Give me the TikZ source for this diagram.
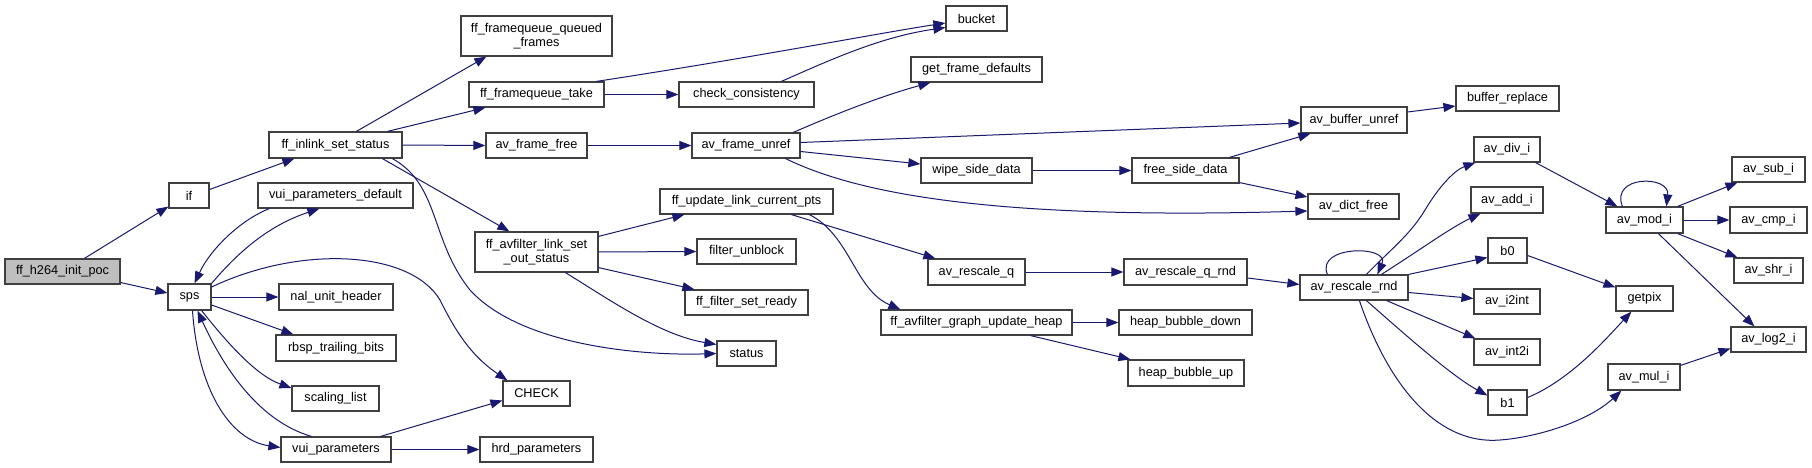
\documentclass[tikz,border=0pt]{standalone}
\usepackage{fontspec}
\setmainfont{Liberation Sans}
\usetikzlibrary{arrows.meta,calc}
\definecolor{edgec}{RGB}{25,25,112}
\definecolor{boxc}{RGB}{64,64,64}
\tikzset{
  box/.style={draw=boxc, line width=1.2pt, fill=white, inner sep=0pt, minimum height=25pt, align=center, font=\fontsize{12.7}{14.5}\selectfont},
  e/.style={draw=edgec, line width=1pt, -{Triangle[length=12pt,width=9pt]}}
}
\begin{document}
\begin{tikzpicture}[x=1pt,y=-1pt]
\fill[white] (0,0) rectangle (1812,468);
\useasboundingbox (0,0) rectangle (1812,468);
% nodes
\node[box, fill={rgb,255:red,191;green,191;blue,191}, minimum width=115pt] (init) at (62.5,271.5) {ff\_h264\_init\_poc};
\node[box, minimum width=40pt] (if) at (189,195.5) {if};
\node[box, minimum width=133pt, minimum height=26pt] (inlink) at (335.5,145) {ff\_inlink\_set\_status};
\node[box, minimum width=155pt] (vuidef) at (335.5,195.5) {vui\_parameters\_default};
\node[box, minimum width=43pt, minimum height=26pt] (sps) at (189.5,297) {sps};
\node[box, minimum width=114pt, minimum height=26pt] (nal) at (336,297) {nal\_unit\_header};
\node[box, minimum width=120pt, minimum height=26pt] (rbsp) at (336,348) {rbsp\_trailing\_bits};
\node[box, minimum width=87pt] (scal) at (335.5,398.5) {scaling\_list};
\node[box, minimum width=110pt] (vui) at (336,449.5) {vui\_parameters};
\node[box, minimum width=151pt, minimum height=40pt] (fqqf) at (536.5,36) {ff\_framequeue\_queued\\\_frames};
\node[box, minimum width=135pt] (fqt) at (536.5,94.5) {ff\_framequeue\_take};
\node[box, minimum width=135pt] (cc) at (746.5,94.5) {check\_consistency};
\node[box, minimum width=101pt] (aff) at (536.5,145.5) {av\_frame\_free};
\node[box, minimum width=108pt] (afu) at (746,145.5) {av\_frame\_unref};
\node[box, minimum width=173pt] (fulcp) at (746.5,201.5) {ff\_update\_link\_current\_pts};
\node[box, minimum width=123pt, minimum height=40pt] (fals) at (536.5,252) {ff\_avfilter\_link\_set\\\_out\_status};
\node[box, minimum width=99pt] (fub) at (746.5,251.5) {filter\_unblock};
\node[box, minimum width=123pt] (ffsr) at (746.5,302.5) {ff\_filter\_set\_ready};
\node[box, minimum width=59pt] (status) at (746.5,353.5) {status};
\node[box, minimum width=67pt] (check) at (536.5,393.5) {CHECK};
\node[box, minimum width=113pt] (hrd) at (536.5,449.5) {hrd\_parameters};
\node[box, minimum width=61pt] (bucket) at (976.5,18.5) {bucket};
\node[box, minimum width=131pt] (gfd) at (976.5,69.5) {get\_frame\_defaults};
\node[box, minimum width=111pt] (wsd) at (976.5,170.5) {wipe\_side\_data};
\node[box, minimum width=97pt, minimum height=26pt] (arq) at (976.5,272) {av\_rescale\_q};
\node[box, minimum width=191pt] (fagu) at (976.5,322.5) {ff\_avfilter\_graph\_update\_heap};
\node[box, minimum width=106pt, minimum height=26pt] (abu) at (1354,120) {av\_buffer\_unref};
\node[box, minimum width=107pt] (fsd) at (1185.5,170.5) {free\_side\_data};
\node[box, minimum width=91pt] (adf) at (1353.5,206.5) {av\_dict\_free};
\node[box, minimum width=123pt, minimum height=26pt] (arqr) at (1185.5,272) {av\_rescale\_q\_rnd};
\node[box, minimum width=133pt] (hbd) at (1185.5,322.5) {heap\_bubble\_down};
\node[box, minimum width=116pt, minimum height=26pt] (hbu) at (1186,373) {heap\_bubble\_up};
\node[box, minimum width=103pt] (br) at (1507.5,98.5) {buffer\_replace};
\node[box, minimum width=108pt] (arr) at (1354,287.5) {av\_rescale\_rnd};
\node[box, minimum width=66pt] (adiv) at (1507,149.5) {av\_div\_i};
\node[box, minimum width=72pt, minimum height=26pt] (aadd) at (1507,200) {av\_add\_i};
\node[box, minimum width=39pt] (bz) at (1507.5,250.5) {b0};
\node[box, minimum width=66pt] (ai2) at (1507,301.5) {av\_i2int};
\node[box, minimum width=66pt, minimum height=26pt] (aint) at (1507,352) {av\_int2i};
\node[box, minimum width=39pt] (bo) at (1507.5,402.5) {b1};
\node[box, minimum width=77pt, minimum height=26pt] (amod) at (1644.5,220) {av\_mod\_i};
\node[box, minimum width=57pt] (getpix) at (1644.5,298.5) {getpix};
\node[box, minimum width=72pt, minimum height=26pt] (amul) at (1644,377) {av\_mul\_i};
\node[box, minimum width=73pt] (asub) at (1768.5,169.5) {av\_sub\_i};
\node[box, minimum width=77pt, minimum height=26pt] (acmp) at (1768.5,220) {av\_cmp\_i};
\node[box, minimum width=69pt] (ashr) at (1768.5,270.5) {av\_shr\_i};
\node[box, minimum width=75pt] (alog) at (1768.5,339.5) {av\_log2\_i};
% edges
\draw[e] ($(init.north west)+(80,0)$) -- ($(if.south west)+(0,-2)$);
\draw[e] ($(init.east)+(0,11)$) -- ($(sps.west)+(0,-4)$);
\draw[e] ($(if.east)+(0,-6)$) -- ($(inlink.south west)+(26,0)$);
\draw[e] ($(inlink.north west)+(88,0)$) -- ($(fqqf.south west)+(26,0)$);
\draw[e] ($(inlink.north west)+(119,0)$) -- ($(fqt.south west)+(17,0)$);
\draw[e] (inlink.east) -- (aff.west);
\draw[e] ($(inlink.south west)+(114,0)$) -- ($(fals.north west)+(35,0)$);
\draw[e] ($(inlink.south west)+(124,0)$) .. controls (440,185) and (430,240) .. (470,290) .. controls (520,345) and (640,356) .. (status.west);
\draw[e] ($(fqt.north west)+(128,0)$) .. controls (750,58) and (880,33) .. ($(bucket.west)+(0,4.5)$);
\draw[e] (fqt.east) -- (cc.west);
\draw[e] ($(cc.north west)+(103,0)$) .. controls (830,60) and (880,37) .. ($(bucket.west)+(0,9)$);
\draw[e] (aff.east) -- (afu.west);
\draw[e] ($(afu.north west)+(102,0)$) .. controls (840,112) and (885,95) .. ($(gfd.south west)+(20,0)$);
\draw[e] ($(afu.east)+(0,-3)$) -- ($(abu.west)+(0,3)$);
\draw[e] ($(afu.east)+(0,6)$) -- ($(wsd.west)+(0,-6.5)$);
\draw[e] ($(afu.south east)+(-15,0)$) .. controls (860,195) and (1000,220) .. ($(adf.west)+(0,4.5)$);
\draw[e] (wsd.east) -- (fsd.west);
\draw[e] ($(fsd.north west)+(98,0)$) -- ($(abu.south west)+(10,0)$);
\draw[e] ($(fsd.south east)+(0,-1)$) -- ($(adf.west)+(0,-9.5)$);
\draw[e] ($(fals.north east)+(0,5)$) -- ($(fulcp.south west)+(25,0)$);
\draw[e] (fals.east) -- (fub.west);
\draw[e] ($(fals.south east)+(0,-5)$) -- ($(ffsr.north west)+(10,0)$);
\draw[e] ($(fals.south west)+(91,0)$) .. controls (610,300) and (660,335) .. ($(status.west)+(0,-9)$);
\draw[e] ($(fulcp.south west)+(132,0)$) -- ($(arq.north west)+(8,0)$);
\draw[e] ($(fulcp.south west)+(150,0)$) .. controls (850,235) and (855,290) .. ($(fagu.north west)+(20,0)$);
\draw[e] (sps.north east) .. controls (240,250) and (270,225) .. ($(vuidef.south west)+(62,0)$);
\draw[e] ($(vuidef.south west)+(12,0)$) .. controls (240,220) and (210,250) .. ($(sps.north)+(5,0)$);
\draw[e] ($(sps.east)+(0,-10)$) .. controls (300,245) and (410,250) .. (440,300) .. controls (455,330) and (470,355) .. ($(check.north west)+(5,0)$);
\draw[e] (sps.east) -- (nal.west);
\draw[e] ($(sps.east)+(0,8)$) -- ($(rbsp.north west)+(18,0)$);
\draw[e] ($(sps.south east)+(-10,0)$) .. controls (225,340) and (255,375) .. ($(scal.west)+(0,-10.5)$);
\draw[e] ($(sps.south)+(3,0)$) .. controls (198,390) and (230,440) .. ($(vui.west)+(0,-2)$);
\draw[e] ($(vui.north west)+(31,0)$) .. controls (255,420) and (220,360) .. ($(sps.south)+(8,0)$);
\draw[e] ($(vui.north east)+(-11,0)$) -- ($(check.west)+(0,7)$);
\draw[e] (vui.east) -- (hrd.west);
\draw[e] (arq.east) -- (arqr.west);
\draw[e] ($(arqr.east)+(0,6)$) -- ($(arr.west)+(0,-3)$);
\draw[e] (fagu.east) -- (hbd.west);
\draw[e] ($(fagu.south east)+(-42,0)$) -- ($(hbu.north west)+(3,0)$);
\draw[e] ($(abu.east)+(0,-8)$) -- ($(br.west)+(0,7.5)$);
\draw[e] ($(arr.north west)+(28,0)$) .. controls (1315,245) and (1390,245) .. ($(arr.north west)+(78,0)$);
\draw[e] ($(arr.north west)+(67,0)$) .. controls (1390,250) and (1410,235) .. (1425,210) .. controls (1440,185) and (1455,170) .. ($(adiv.south west)+(2,0)$);
\draw[e] ($(arr.north west)+(82,0)$) .. controls (1420,250) and (1450,228) .. ($(aadd.south west)+(10,0)$);
\draw[e] (arr.north east) -- ($(bz.west)+(0,7)$);
\draw[e] ($(arr.east)+(0,5)$) -- ($(ai2.west)+(0,-3)$);
\draw[e] ($(arr.south east)+(-22,0)$) -- ($(aint.north west)+(2,0)$);
\draw[e] ($(arr.south west)+(67,0)$) .. controls (1400,330) and (1450,375) .. ($(bo.west)+(0,-7)$);
\draw[e] ($(arr.south west)+(60,0)$) .. controls (1390,390) and (1440,445) .. (1500,440) .. controls (1540,437) and (1590,420) .. ($(amul.south west)+(14,0)$);
\draw[e] ($(adiv.south east)+(-5,0)$) -- ($(amod.north west)+(12,0)$);
\draw[e] ($(bz.east)+(0,5)$) -- ($(getpix.north west)+(0,2)$);
\draw[e] ($(bo.east)+(0,-5)$) .. controls (1570,380) and (1605,340) .. ($(getpix.south west)+(16,0)$);
\draw[e] ($(amod.north west)+(17,0)$) .. controls (1610,175) and (1670,175) .. ($(amod.north west)+(61,0)$);
\draw[e] ($(amod.north east)+(-6,0)$) -- ($(asub.south west)+(6,0)$);
\draw[e] (amod.east) -- (acmp.west);
\draw[e] ($(amod.south east)+(-6,0)$) -- ($(ashr.north west)+(4,0)$);
\draw[e] ($(amod.south west)+(53,0)$) -- ($(alog.north west)+(24,0)$);
\draw[e] ($(amul.north east)+(0,2)$) -- ($(alog.west)+(0,9)$);
\end{tikzpicture}
\end{document}
